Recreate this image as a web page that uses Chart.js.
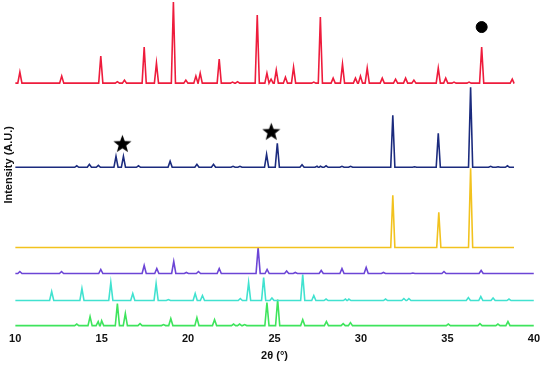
<!DOCTYPE html>
<html>
<head>
<meta charset="utf-8">
<script src="https://cdn.jsdelivr.net/npm/chart.js@4.4.0/dist/chart.umd.min.js"></script>
<style>
  html, body { margin: 0; padding: 0; background: #fff; }
  #wrap { width: 543px; height: 370px; }
</style>
</head>
<body>
<div id="wrap"><canvas id="xrd"></canvas></div>
<script>
// peak positions (2θ) and heights, one pair of arrays per pattern
const redPos = [10.27, 12.69, 14.95, 15.91, 16.32, 17.46, 18.17, 19.15, 19.87, 20.45, 20.7, 21.8, 22.57, 22.86, 24.0, 24.56, 24.8, 25.1, 25.63, 26.1, 27.27, 27.65, 28.39, 28.93, 29.68, 29.97, 30.36, 31.23, 32.0, 32.58, 33.06, 34.47, 34.9, 35.38, 36.25, 36.98, 38.75];
const redH = [11, 7, 27, 1.5, 3, 36, 20, 81, 3, 7, 10, 24, 1, 1.5, 68, 10, 4, 13, 6, 16, 1, 66, 5, 19, 5, 7, 15, 5, 4, 5, 3, 15, 5, 1, 1, 36, 4];

const navyPos = [13.56, 14.29, 14.81, 15.83, 16.26, 17.13, 18.96, 20.51, 21.47, 22.6, 23.0, 24.54, 25.16, 26.59, 27.46, 27.65, 27.98, 28.9, 29.4, 31.84, 33.1, 34.47, 36.34, 37.5, 37.93, 38.47];
const navyH = [1.5, 3, 2, 11, 11, 1.5, 6, 3, 3, 1, 1, 13, 24, 2.5, 1, 1, 1.5, 1, 1, 52, 0.5, 34, 80, 1, 0.5, 1.5];

const goldPos = [31.84, 34.5, 36.34];
const goldH = [52, 35, 79];

const purplePos = [10.27, 12.68, 14.95, 17.46, 18.19, 19.17, 19.9, 20.6, 21.8, 24.05, 24.57, 25.7, 26.2, 27.7, 28.9, 30.3, 31.3, 33.0, 34.8, 36.95];
const purpleH = [2, 2, 4, 8, 5, 12, 1, 2, 5, 26, 4, 2.5, 1, 3, 5, 6, 1, 0.5, 2, 3];

const turqPos = [12.11, 13.86, 15.53, 16.8, 18.15, 18.86, 20.41, 20.83, 23.02, 23.5, 24.37, 24.85, 26.63, 27.27, 27.98, 29.1, 29.3, 31.42, 32.48, 32.77, 36.21, 36.93, 37.64, 38.56];
const turqH = [9, 12, 18, 7, 17, 1, 7, 5, 2, 18, 23, 2.5, 26, 5, 1.5, 1.5, 1.5, 1.5, 2, 2, 3, 4, 2.5, 1.5];

const greenPos = [13.56, 14.33, 14.8, 15.0, 15.91, 16.37, 17.22, 18.58, 19.0, 20.51, 21.53, 22.63, 22.98, 23.27, 24.56, 25.18, 26.63, 28.0, 28.97, 29.39, 35.05, 36.88, 37.92, 38.5];
const greenH = [1.5, 9, 4, 5, 22, 12, 2, 1, 7, 8, 6, 1.5, 1.5, 1, 23, 26, 6, 4, 2, 3, 1.5, 2, 1.5, 4];

// baseline of each stacked pattern and where its scan ends
const baselines = { red: 246, navy: 162, gold: 82, purple: 56, turq: 29, green: 4 };
const scanEnd = { red: 38.85, navy: 38.85, gold: 38.85, purple: 40, turq: 40, green: 40 };

// markers
const starX = [16.2, 24.81];
const starY = [186, 198];
const dotX = [36.98];
const dotY = [302];

const HALF = 0.12;

function pattern(pos, h, base, end) {
  const pts = [{ x: 10, y: base }];
  pos.forEach((p, i) => {
    pts.push({ x: p - HALF, y: base });
    pts.push({ x: p, y: base + h[i] });
    pts.push({ x: p + HALF, y: base });
  });
  pts.push({ x: end, y: base });
  pts.sort((a, b) => a.x - b.x);
  return pts;
}

function starImage(size) {
  const c = document.createElement('canvas');
  c.width = size; c.height = size;
  const g = c.getContext('2d');
  const cx = size / 2, cy = size / 2 + 1, R = size / 2, r = R * 0.42;
  g.beginPath();
  for (let i = 0; i < 10; i++) {
    const rad = i % 2 ? r : R;
    const a = -Math.PI / 2 + i * Math.PI / 5;
    g.lineTo(cx + rad * Math.cos(a), cy + rad * Math.sin(a));
  }
  g.closePath();
  g.fillStyle = '#000';
  g.fill();
  return c;
}

function line(label, pos, h, key, color) {
  return {
    label,
    data: pattern(pos, h, baselines[key], scanEnd[key]),
    borderColor: color,
    borderWidth: 1.6,
    pointRadius: 0,
    fill: false,
    tension: 0
  };
}

new Chart(document.getElementById('xrd'), {
  type: 'line',
  data: {
    datasets: [
      line('red', redPos, redH, 'red', '#ee1c3c'),
      line('navy', navyPos, navyH, 'navy', '#1b2b7e'),
      line('gold', goldPos, goldH, 'gold', '#f2c21e'),
      line('purple', purplePos, purpleH, 'purple', '#6c45d6'),
      line('turq', turqPos, turqH, 'turq', '#41e2d0'),
      line('green', greenPos, greenH, 'green', '#3ee45c'),
      {
        label: 'stars',
        data: starX.map((x, i) => ({ x, y: starY[i] })),
        showLine: false,
        pointStyle: starImage(19),
        pointRadius: 9
      },
      {
        label: 'dot',
        data: dotX.map((x, i) => ({ x, y: dotY[i] })),
        showLine: false,
        pointStyle: 'circle',
        pointRadius: 5.5,
        backgroundColor: '#000',
        borderColor: '#000'
      }
    ]
  },
  options: {
    responsive: true,
    maintainAspectRatio: false,
    animation: false,
    layout: { autoPadding: false, padding: { left: 2, right: 4, top: 0, bottom: 7 } },
    plugins: {
      legend: { display: false },
      tooltip: { enabled: false }
    },
    scales: {
      x: {
        type: 'linear',
        min: 10,
        max: 40,
        grid: { display: false, drawTicks: false },
        border: { display: false },
        ticks: {
          stepSize: 5,
          padding: 3,
          color: '#111',
          font: { family: 'Liberation Sans, Arial', size: 11, weight: 'bold' }
        },
        title: {
          display: true,
          text: '2θ (°)',
          color: '#111',
          padding: { top: 1, bottom: 0 },
          font: { family: 'Liberation Sans, Arial', size: 11, weight: 'bold' }
        }
      },
      y: {
        min: 0,
        max: 329,
        grid: { display: false, drawTicks: false },
        border: { display: false },
        ticks: { display: false },
        title: {
          display: true,
          text: 'Intensity (A.U.)',
          color: '#111',
          padding: { top: 0, bottom: 0 },
          font: { family: 'Liberation Sans, Arial', size: 11, weight: 'bold' }
        }
      }
    }
  }
});
</script>
</body>
</html>
